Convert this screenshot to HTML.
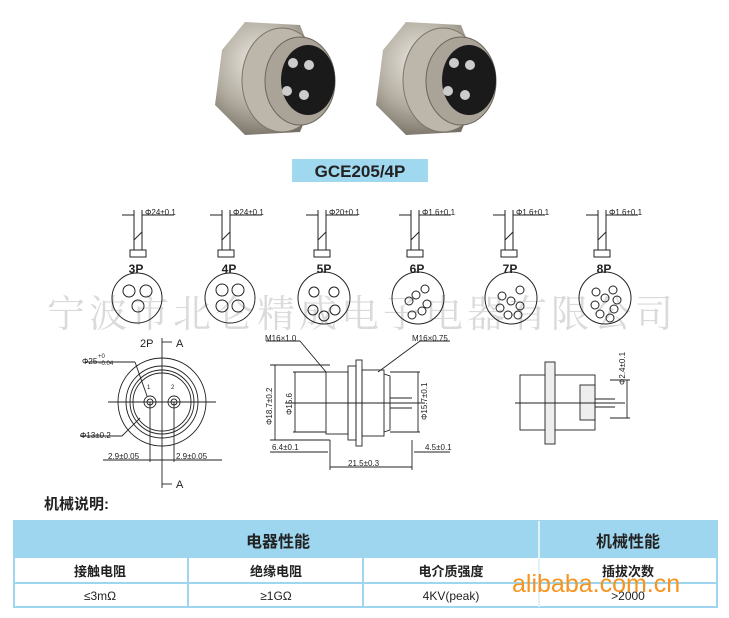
<!DOCTYPE html>
<html><head><meta charset="utf-8"><style>
body{margin:0;background:#fff;width:729px;height:618px;overflow:hidden;font-family:"Liberation Sans","Noto Sans CJK SC",sans-serif}
svg{position:absolute;left:0;top:0}
</style></head><body>
<svg width="729" height="618" viewBox="0 0 729 618" font-family="Liberation Sans, Noto Sans CJK SC, sans-serif">
<defs>
<radialGradient id="m" cx="40%" cy="35%" r="70%"><stop offset="0" stop-color="#ece8e0"/><stop offset="0.6" stop-color="#b0aa9e"/><stop offset="1" stop-color="#746e64"/></radialGradient>
</defs>
<g>
<path d="M222,50 L245,22 L300,25 L322,80 L300,132 L245,135 L215,105 Z" fill="url(#m)"/>
<ellipse cx="282" cy="80" rx="40" ry="52" fill="#bdb7ab" stroke="#7a746a"/>
<ellipse cx="300" cy="81" rx="35" ry="44" fill="#aaa398" stroke="#6a655c"/>
<ellipse cx="308" cy="80" rx="27" ry="35" fill="#1a1a1a"/>
<circle cx="293" cy="63" r="5" fill="#ccc"/><circle cx="309" cy="65" r="5" fill="#ccc"/>
<circle cx="287" cy="91" r="5" fill="#ccc"/><circle cx="304" cy="95" r="5" fill="#ccc"/>
<path d="M383,50 L406,22 L461,25 L483,80 L461,132 L406,135 L376,105 Z" fill="url(#m)"/>
<ellipse cx="443" cy="80" rx="40" ry="52" fill="#bdb7ab" stroke="#7a746a"/>
<ellipse cx="461" cy="81" rx="35" ry="44" fill="#aaa398" stroke="#6a655c"/>
<ellipse cx="469" cy="80" rx="27" ry="35" fill="#1a1a1a"/>
<circle cx="454" cy="63" r="5" fill="#ccc"/><circle cx="470" cy="65" r="5" fill="#ccc"/>
<circle cx="448" cy="91" r="5" fill="#ccc"/><circle cx="465" cy="95" r="5" fill="#ccc"/>
</g>
<rect x="292" y="159" width="136" height="23" fill="#9fd8ef"/>
<text x="360" y="177" text-anchor="middle" font-size="17" font-weight="bold" fill="#222">GCE205/4P</text>

<text x="362" y="327" text-anchor="middle" font-size="38" fill="#dadada" font-family="Noto Serif CJK SC, serif" letter-spacing="4">宁波市北仑精成电子电器有限公司</text>

<g stroke="#222" fill="none" stroke-width="1">
<g id="p"><line x1="-12" y1="-80" x2="0" y2="-80"/><line x1="8" y1="-80" x2="40" y2="-80"/>
<line x1="0" y1="-85" x2="0" y2="-45"/><line x1="8" y1="-85" x2="8" y2="-45"/>
<path d="M0,-55 L8,-63"/><rect x="-4" y="-45" width="16" height="7"/></g>
</g>
<g stroke="#222" fill="none" stroke-width="1">
<g transform="translate(134,295)"><use href="#p"/></g>
<g transform="translate(222,295)"><use href="#p"/></g>
<g transform="translate(318,295)"><use href="#p"/></g>
<g transform="translate(411,295)"><use href="#p"/></g>
<g transform="translate(505,295)"><use href="#p"/></g>
<g transform="translate(598,295)"><use href="#p"/></g>
</g>
<g font-size="8" fill="#222">
<text x="145" y="215">Φ24±0.1</text><text x="233" y="215">Φ24±0.1</text><text x="329" y="215">Φ20±0.1</text>
<text x="422" y="215">Φ1.6±0.1</text><text x="516" y="215">Φ1.6±0.1</text><text x="609" y="215">Φ1.6±0.1</text>
</g>
<g font-size="12" font-weight="bold" fill="#222" text-anchor="middle">
<text x="136" y="273">3P</text><text x="229" y="273">4P</text><text x="324" y="273">5P</text>
<text x="417" y="273">6P</text><text x="510" y="273">7P</text><text x="604" y="273">8P</text>
</g>
<g stroke="#222" fill="none">
<circle cx="137" cy="298" r="25"/><circle cx="230" cy="298" r="25"/><circle cx="324" cy="298" r="26"/>
<circle cx="418" cy="298" r="26"/><circle cx="511" cy="298" r="26"/><circle cx="605" cy="298" r="26"/>
<circle cx="129" cy="291" r="6"/><circle cx="146" cy="291" r="6"/><circle cx="138" cy="306" r="6"/>
<circle cx="222" cy="290" r="6"/><circle cx="238" cy="290" r="6"/><circle cx="222" cy="306" r="6"/><circle cx="238" cy="306" r="6"/>
<circle cx="314" cy="292" r="5"/><circle cx="334" cy="292" r="5"/><circle cx="313" cy="310" r="5"/><circle cx="335" cy="310" r="5"/><circle cx="324" cy="316" r="5"/>
<circle cx="425" cy="289" r="4"/><circle cx="409" cy="301" r="4"/><circle cx="427" cy="304" r="4"/><circle cx="412" cy="315" r="4"/><circle cx="422" cy="311" r="4"/><circle cx="416" cy="295" r="4"/>
<circle cx="520" cy="290" r="4"/><circle cx="502" cy="296" r="4"/><circle cx="511" cy="301" r="4"/><circle cx="520" cy="306" r="4"/><circle cx="500" cy="308" r="4"/><circle cx="508" cy="315" r="4"/><circle cx="518" cy="315" r="4"/>
<circle cx="613" cy="290" r="4"/><circle cx="596" cy="292" r="4"/><circle cx="605" cy="298" r="4"/><circle cx="617" cy="300" r="4"/><circle cx="595" cy="305" r="4"/><circle cx="614" cy="309" r="4"/><circle cx="600" cy="314" r="4"/><circle cx="610" cy="318" r="4"/>
</g>

<g stroke="#222" fill="none" stroke-width="0.9">
<circle cx="162" cy="402" r="44"/><circle cx="162" cy="402" r="36"/><circle cx="162" cy="402" r="32"/><circle cx="162" cy="402" r="29"/>
<circle cx="150" cy="402" r="6"/><circle cx="150" cy="402" r="3"/><circle cx="174" cy="402" r="6"/><circle cx="174" cy="402" r="3"/>
<line x1="108" y1="402" x2="216" y2="402"/><line x1="162" y1="338" x2="162" y2="488"/>
<line x1="150" y1="402" x2="150" y2="462"/><line x1="174" y1="402" x2="174" y2="462"/>
<line x1="103" y1="460" x2="222" y2="460"/>
<line x1="85" y1="362" x2="135" y2="362"/><line x1="135" y1="362" x2="147" y2="396"/>
<line x1="80" y1="436" x2="122" y2="436"/><line x1="122" y1="436" x2="140" y2="418"/>
<line x1="162" y1="342" x2="172" y2="342"/><line x1="162" y1="484" x2="172" y2="484"/>
</g>
<g font-size="8" fill="#222">
<text x="140" y="347" font-size="11">2P</text><text x="176" y="347" font-size="11">A</text><text x="176" y="488" font-size="11">A</text>
<text x="82" y="364">Φ25</text><text x="98" y="358" font-size="6">+0</text><text x="98" y="365" font-size="6">−0.04</text>
<text x="80" y="438">Φ13±0.2</text><text x="108" y="459">2.9±0.05</text><text x="176" y="459">2.9±0.05</text>
<text x="147" y="389" font-size="6">1</text><text x="171" y="389" font-size="6">2</text>
</g>

<g stroke="#222" fill="none" stroke-width="0.9">
<rect x="326" y="372" width="22" height="62"/>
<rect x="348" y="366" width="8" height="74"/>
<rect x="356" y="360" width="6" height="86"/>
<rect x="362" y="370" width="22" height="66"/>
<path d="M384,374 L390,376 L390,430 L384,432"/>
<line x1="390" y1="398" x2="412" y2="398"/><line x1="390" y1="408" x2="412" y2="408"/>
<line x1="285" y1="403" x2="425" y2="403"/>
<line x1="270" y1="365" x2="330" y2="365"/><line x1="270" y1="440" x2="330" y2="440"/>
<line x1="275" y1="365" x2="275" y2="440"/>
<line x1="293" y1="372" x2="326" y2="372"/><line x1="293" y1="432" x2="326" y2="432"/>
<line x1="295" y1="372" x2="295" y2="432"/>
<line x1="390" y1="372" x2="420" y2="372"/><line x1="390" y1="432" x2="420" y2="432"/><line x1="418" y1="372" x2="418" y2="432"/>
<line x1="266" y1="341" x2="300" y2="341"/><line x1="300" y1="341" x2="326" y2="372"/>
<line x1="420" y1="341" x2="450" y2="341"/><line x1="420" y1="341" x2="378" y2="372"/>
<line x1="330" y1="440" x2="330" y2="470"/><line x1="412" y1="440" x2="412" y2="470"/>
<line x1="330" y1="467" x2="412" y2="467"/>
<line x1="270" y1="452" x2="328" y2="452"/><line x1="414" y1="452" x2="450" y2="452"/>
</g>
<g font-size="8" fill="#222">
<text x="265" y="341">M16×1.0</text><text x="412" y="341">M16×0.75</text>
<text x="272" y="450">6.4±0.1</text><text x="425" y="450">4.5±0.1</text><text x="348" y="466">21.5±0.3</text>
<text transform="translate(272,425) rotate(-90)">Φ18.7±0.2</text>
<text transform="translate(292,415) rotate(-90)">Φ15.6</text>
<text transform="translate(427,420) rotate(-90)">Φ15.7±0.1</text>
</g>

<g stroke="#222" fill="none" stroke-width="0.9">
<rect x="520" y="375" width="75" height="55"/>
<rect x="545" y="362" width="10" height="82" fill="#eee"/>
<rect x="580" y="385" width="15" height="35" fill="#eee"/>
<line x1="515" y1="403" x2="625" y2="403"/>
<line x1="595" y1="399" x2="615" y2="399"/><line x1="595" y1="407" x2="615" y2="407"/>
<line x1="610" y1="380" x2="630" y2="380"/><line x1="610" y1="418" x2="630" y2="418"/><line x1="627" y1="380" x2="627" y2="418"/>
</g>
<text transform="translate(625,385) rotate(-90)" font-size="8" fill="#222">Φ2.4±0.1</text>

<text x="44" y="509" font-size="15" font-weight="bold" fill="#222">机械说明:</text>
<rect x="14" y="521" width="703" height="37" fill="#9ed6ef"/>
<rect x="14" y="558" width="703" height="49" fill="#fff"/>
<g stroke="#9ed6ef" stroke-width="2" fill="none">
<rect x="14" y="521" width="703" height="86"/>
<line x1="14" y1="583" x2="717" y2="583"/>
<line x1="188" y1="558" x2="188" y2="607"/><line x1="363" y1="558" x2="363" y2="607"/>
</g>
<line x1="539" y1="521" x2="539" y2="607" stroke="#e0f2fa" stroke-width="2"/>
<g text-anchor="middle" fill="#222">
<text x="278" y="547" font-size="16" font-weight="bold">电器性能</text>
<text x="628" y="547" font-size="16" font-weight="bold">机械性能</text>
<g font-size="13" font-weight="bold"><text x="100" y="576">接触电阻</text><text x="276" y="576">绝缘电阻</text><text x="451" y="576">电介质强度</text><text x="628" y="576">插拔次数</text></g>
<g font-size="12"><text x="100" y="600">≤3mΩ</text><text x="276" y="600">≥1GΩ</text><text x="451" y="600">4KV(peak)</text><text x="628" y="600">&gt;2000</text></g>
</g>
<text x="512" y="592" font-size="25" fill="#f7931e">alibaba.com.cn</text>
</svg>
</body></html>
